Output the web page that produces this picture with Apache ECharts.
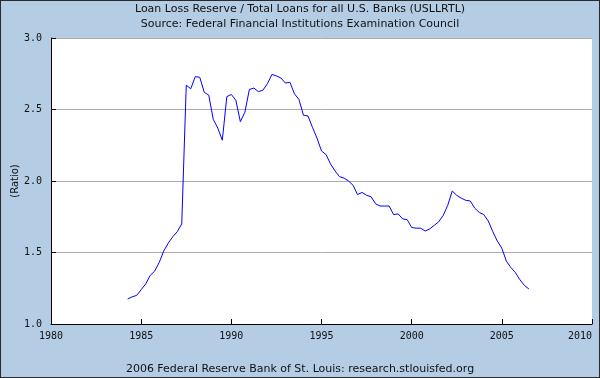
<!DOCTYPE html>
<html>
<head>
<meta charset="utf-8">
<script src="https://cdn.jsdelivr.net/npm/echarts@6/dist/echarts.min.js"></script>
<style>
  html, body { margin: 0; padding: 0; }
  #wrap { position: relative; width: 600px; height: 378px; }
  #main { width: 600px; height: 378px; }
  #frame { position: absolute; left: 0; top: 0; width: 598px; height: 376px; border: 1px solid #2a2a2a; pointer-events: none; }
</style>
</head>
<body>
<div id="wrap"><div id="main"></div><div id="frame"></div></div>
<script>
// quarterly series, first quarter = 1984 Q2
var firstQuarter = 1984.25;
var ratio = [
  1.175, 1.19, 1.20, 1.24, 1.28, 1.34, 1.37, 1.43, 1.51, 1.565, 1.61, 1.645, 1.70,
  2.67, 2.645, 2.73, 2.725, 2.62, 2.60, 2.43, 2.37, 2.285, 2.59,
  2.605, 2.565, 2.415, 2.48, 2.64, 2.65, 2.625, 2.635,
  2.68, 2.745, 2.735, 2.72, 2.685, 2.69, 2.61, 2.57,
  2.46, 2.455, 2.375, 2.30, 2.21, 2.185, 2.12, 2.07,
  2.03, 2.02, 2.00, 1.97, 1.905, 1.92, 1.90, 1.89,
  1.84, 1.825, 1.825, 1.825, 1.765, 1.77, 1.735, 1.73,
  1.675, 1.67, 1.67, 1.65, 1.665, 1.69, 1.715, 1.76,
  1.83, 1.93, 1.90, 1.88, 1.865, 1.86, 1.81, 1.78,
  1.765, 1.72, 1.645, 1.58, 1.53, 1.44, 1.395, 1.36,
  1.31, 1.27, 1.245
];
var yearTicks = [1980, 1985, 1990, 1995, 2000, 2005, 2010];
var ratioTicks = [1.0, 1.5, 2.0, 2.5, 3.0];

var points = ratio.map(function (v, i) { return [firstQuarter + i * 0.25, v]; });

var myChart = echarts.init(document.getElementById('main'));
var option = {
  backgroundColor: '#b4cce4',
  animation: false,
  title: [{
    text: 'Loan Loss Reserve / Total Loans for all U.S. Banks (USLLRTL)\nSource: Federal Financial Institutions Examination Council',
    left: 'center',
    top: 2,
    padding: 0,
    textStyle: { fontFamily: 'DejaVu Sans', fontSize: 11, fontWeight: 'normal', color: '#111', lineHeight: 15 }
  }, {
    text: '2006 Federal Reserve Bank of St. Louis: research.stlouisfed.org',
    left: 'center',
    top: 362,
    padding: 0,
    textStyle: { fontFamily: 'DejaVu Sans', fontSize: 11, fontWeight: 'normal', color: '#111', lineHeight: 14 }
  }],
  grid: { left: 51, right: 8, top: 38, bottom: 54, outerBoundsMode: 'none',
    show: true, backgroundColor: '#fff', borderWidth: 0 },
  xAxis: {
    type: 'value',
    min: yearTicks[0],
    max: yearTicks[yearTicks.length - 1],
    interval: 5,
    axisLine: { lineStyle: { color: '#000', width: 1 } },
    axisTick: { inside: true, length: 5, lineStyle: { color: '#000' } },
    axisLabel: { margin: 7, fontFamily: 'DejaVu Sans Mono', fontSize: 10, color: '#111',
      showMinLabel: true, showMaxLabel: true, hideOverlap: false, alignMaxLabel: 'right',
      formatter: function (v) { return String(v); } },
    splitLine: { show: false }
  },
  yAxis: {
    type: 'value',
    min: ratioTicks[0],
    max: ratioTicks[ratioTicks.length - 1],
    interval: 0.5,
    name: '(Ratio)',
    nameLocation: 'middle',
    nameGap: 31,
    nameMoveOverlap: false,
    nameTextStyle: { fontFamily: 'DejaVu Sans', fontSize: 10, color: '#111' },
    axisLine: { show: true, lineStyle: { color: '#000', width: 1 } },
    axisTick: { show: true, inside: true, length: 5, lineStyle: { color: '#000' } },
    axisLabel: { margin: 9, fontFamily: 'DejaVu Sans Mono', fontSize: 10, color: '#111',
      formatter: function (v) { return v.toFixed(1); } },
    splitLine: { show: true, lineStyle: { color: '#aaaaaa', width: 1 } }
  },
  series: [{
    name: 'USLLRTL',
    type: 'line',
    data: points,
    showSymbol: false,
    lineStyle: { color: '#0000ff', width: 1 }
  }]
};
myChart.setOption(option);
</script>
</body>
</html>
